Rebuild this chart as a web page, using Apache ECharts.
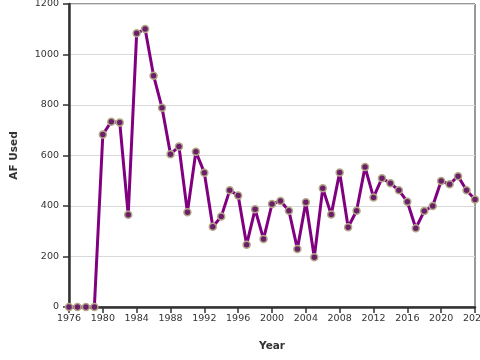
<!DOCTYPE html>
<html>
<head>
<meta charset="utf-8">
<script src="https://cdn.jsdelivr.net/npm/echarts@6/dist/echarts.min.js"></script>
<style>html,body{margin:0;padding:0;background:#fff;}#c{width:480px;height:360px;}</style>
</head>
<body>
<div id="c"></div>
<script>
const years = [1976,1977,1978,1979,1980,1981,1982,1983,1984,1985,1986,1987,1988,1989,1990,1991,1992,1993,1994,1995,1996,1997,1998,1999,2000,2001,2002,2003,2004,2005,2006,2007,2008,2009,2010,2011,2012,2013,2014,2015,2016,2017,2018,2019,2020,2021,2022,2023,2024];
const afUsed = [0,0,0,0,683,734,731,365,1084,1101,916,789,605,636,375,615,532,318,358,462,442,247,387,269,408,420,381,230,415,197,470,366,533,316,381,554,434,510,490,462,417,312,380,400,499,486,518,462,426];
const xTitle = 'Year';
const yTitle = 'AF Used';

const chart = echarts.init(document.getElementById('c'), null, {renderer:'canvas'});
const font = 'DejaVu Sans';
chart.setOption({
  animation:false,
  backgroundColor:'#fff',
  grid:{left:69,right:5,top:4,bottom:53,show:true,borderColor:'#333',borderWidth:1,backgroundColor:'transparent',containLabel:false,outerBoundsMode:'none'},
  xAxis:{
    type:'value',min:1976,max:2024,interval:4,
    name:xTitle,nameLocation:'middle',nameGap:34,
    nameTextStyle:{fontFamily:font,fontSize:10.5,fontWeight:'bold',color:'#333'},
    axisLine:{show:true,onZero:false,lineStyle:{color:'#333',width:2.5}},
    axisTick:{show:true,length:6,lineStyle:{color:'#333',width:1.5}},
    axisLabel:{fontFamily:font,fontSize:9.5,color:'#333',margin:7,hideOverlap:false,formatter:v=>String(v)},
    splitLine:{show:false}
  },
  yAxis:{
    type:'value',min:0,max:1200,interval:200,
    name:yTitle,nameLocation:'middle',nameGap:49,
    nameTextStyle:{fontFamily:font,fontSize:10.5,fontWeight:'bold',color:'#333'},
    axisLine:{show:true,lineStyle:{color:'#333',width:2.5}},
    axisTick:{show:true,length:6,lineStyle:{color:'#333',width:1.5}},
    axisLabel:{fontFamily:font,fontSize:9.5,color:'#333',margin:10,formatter:v=>String(v)},
    splitLine:{show:true,lineStyle:{color:'#d9d9d9',width:1}}
  },
  series:[{
    type:'line',
    data:years.map((y,i)=>[y,afUsed[i]]),
    clip:false,
    lineStyle:{color:'#800080',width:3},
    symbol:'circle',symbolSize:7,
    itemStyle:{color:'#6b1f6b',borderColor:'#b3a886',borderWidth:1.5},
    z:3
  }]
});
</script>
</body>
</html>
